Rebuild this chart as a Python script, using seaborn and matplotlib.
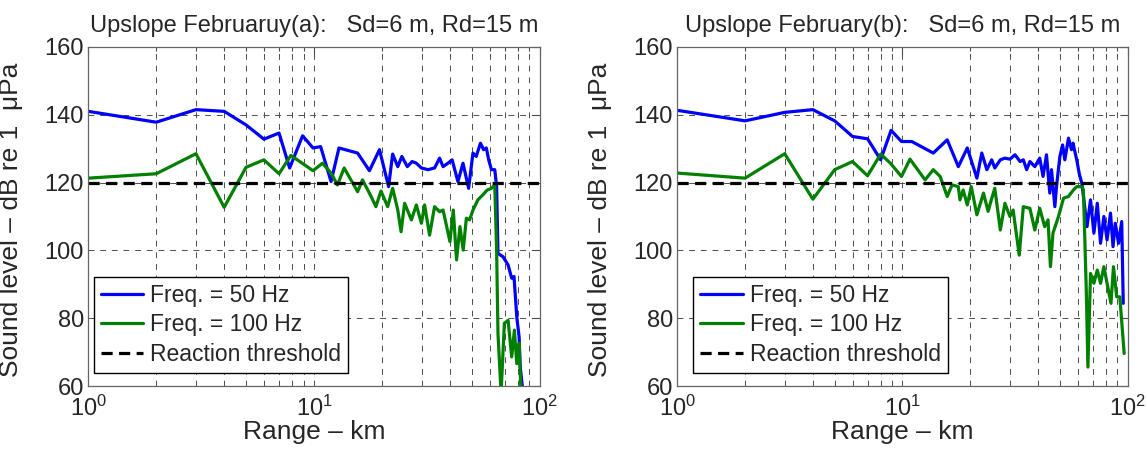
import numpy as np
import pandas as pd
import matplotlib
matplotlib.use("Agg")
import matplotlib.pyplot as plt
import seaborn as sns
from matplotlib.ticker import LogLocator, FixedLocator

# ---- data ----
range_a_50 = [1, 2, 3, 4, 5, 6, 7, 7.8, 8.9, 9.9, 10.7, 11.9, 12.9, 15.6, 17.6, 19.5, 21.4, 22.3,
              23.5, 24.5, 25.9, 27.2, 28.4, 29.9, 32.0, 34.2, 36.0, 37.3, 39.2, 40.9, 43.4, 45.7,
              48.4, 50.6, 52.3, 54.6, 56.4, 58.0, 59.4, 61.1, 63.2, 64.4, 65.3, 68.8, 72.4, 75.1,
              76.9, 79.1, 81.0, 81.9, 84.3]
level_a_50 = [141.0, 137.8, 141.5, 141.0, 137.0, 132.8, 134.6, 124.3, 133.8, 130.2, 130.6, 120.3,
              130.2, 128.7, 123.5, 129.7, 118.8, 128.4, 124.7, 127.7, 124.7, 126.2, 125.7, 124.3,
              123.8, 124.3, 127.2, 124.7, 125.7, 126.7, 120.3, 125.7, 118.3, 128.7, 127.7, 131.6,
              129.7, 130.2, 126.7, 123.8, 123.8, 118.8, 99.1, 98.1, 95.7, 91.8, 92.3, 80.4, 74.5,
              65.7, 58.0]

range_a_100 = [1, 2, 3, 4, 5, 6, 7, 7.9, 9.9, 10.9, 11.9, 12.7, 13.6, 15.6, 16.4, 17.9, 18.8, 19.8,
               21.2, 22.3, 23.5, 24.3, 25.2, 27.0, 28.4, 29.9, 30.9, 32.5, 34.2, 36.0, 37.3, 40.0,
               41.4, 42.8, 44.3, 45.8, 47.3, 48.9, 50.6, 53.2, 56.0, 58.5, 61.1, 63.2, 64.4, 65.3,
               67.4, 69.7, 72.4, 75.1, 77.2, 79.1, 81.0, 82.6]
level_a_100 = [121.3, 122.6, 128.5, 112.7, 124.5, 126.7, 122.6, 128.0, 123.5, 125.7, 122.8, 119.3,
               124.3, 117.3, 120.8, 115.9, 112.9, 117.5, 112.9, 118.3, 111.9, 105.5, 113.9, 109.0,
               113.4, 108.0, 113.4, 104.5, 112.9, 111.4, 111.9, 102.6, 111.9, 97.2, 107.0, 100.1,
               109.5, 109.0, 111.9, 114.9, 116.4, 117.8, 118.3, 119.3, 100.1, 75.5, 58.0, 78.5,
               79.4, 68.6, 76.5, 66.6, 72.6, 58.0]

range_b_50 = [1, 2, 3, 4, 5, 6, 7, 8, 8.9, 9.9, 11.0, 13.7, 15.8, 17.7, 19.4, 21.4, 22.5, 23.7,
              24.9, 25.7, 27.2, 28.5, 30.0, 31.6, 33.3, 34.4, 35.6, 36.8, 38.7, 40.7, 42.1, 43.6,
              45.1, 45.9, 47.5, 48.3, 50.0, 51.4, 52.6, 54.6, 56.3, 57.2, 59.4, 61.1, 62.6, 66.0,
              68.4, 70.8, 73.3, 75.8, 78.4, 81.0, 83.9, 86.1, 88.1, 91.1, 94.1, 95.6]
level_b_50 = [141.3, 138.2, 140.7, 141.5, 138.2, 133.6, 132.9, 126.7, 135.4, 132.1, 132.1, 128.7,
              132.6, 124.7, 130.2, 121.3, 128.7, 123.8, 126.7, 124.3, 126.7, 127.2, 126.9, 128.2,
              126.2, 126.7, 123.8, 126.2, 124.7, 127.2, 121.8, 128.2, 116.9, 123.8, 112.9, 118.8,
              127.7, 131.1, 126.7, 133.1, 129.7, 131.6, 126.7, 122.3, 119.8, 107.0, 114.9, 105.1,
              113.9, 102.1, 110.0, 103.1, 111.0, 101.1, 108.0, 102.1, 108.5, 84.4]

range_b_100 = [1, 2, 3, 4, 5, 6, 7, 8, 8.84, 9.9, 10.8, 12.6, 13.7, 14.7, 15.8, 16.6, 17.7, 18.0,
               18.6, 19.4, 20.2, 21.4, 22.9, 24.0, 24.8, 25.7, 27.2, 28.5, 30.0, 31.0, 33.0, 34.4,
               36.8, 38.7, 40.7, 42.8, 44.3, 45.4, 46.6, 49.3, 51.9, 54.6, 57.4, 59.4, 62.6, 63.6,
               65.5, 66.6, 68.4, 70.8, 73.3, 75.8, 78.4, 81.0, 84.3, 86.5, 89.4, 92.3, 96.5]
level_b_100 = [122.8, 121.3, 128.5, 115.1, 123.8, 126.2, 122.0, 128.4, 125.7, 121.8, 126.9, 120.8,
               123.8, 121.8, 115.9, 119.3, 118.8, 114.9, 117.8, 113.4, 118.8, 110.5, 116.9, 111.5,
               114.9, 118.3, 106.0, 113.9, 110.0, 111.9, 98.6, 112.9, 112.4, 106.0, 112.4, 107.0,
               109.0, 95.2, 105.1, 110.0, 115.4, 115.9, 117.8, 118.8, 118.8, 117.8, 88.3, 65.6,
               93.2, 90.3, 94.2, 90.3, 95.2, 90.3, 84.4, 95.2, 86.3, 86.3, 69.6]

threshold = 120
titles = ["Upslope Februaruy(a):   Sd=6 m, Rd=15 m",
          "Upslope February(b):   Sd=6 m, Rd=15 m"]
labels = ["Freq. = 50 Hz", "Freq. = 100 Hz", "Reaction threshold"]

sns.set_style("white")
plt.rcParams['font.family'] = ['Liberation Sans', 'DejaVu Sans']
plt.rcParams['mathtext.fontset'] = 'custom'
plt.rcParams['mathtext.rm'] = 'Liberation Sans'

fig = plt.figure(figsize=(11.46, 4.51), dpi=100)
ax_a = fig.add_axes([0.077, 0.144, 0.394, 0.752])
ax_b = fig.add_axes([0.591, 0.144, 0.393, 0.752])

panels = [
    (ax_a, range_a_50, level_a_50, range_a_100, level_a_100, titles[0], 0.013),
    (ax_b, range_b_50, level_b_50, range_b_100, level_b_100, titles[1], 0.036),
]

grid_style = dict(color='0.3', linestyle=(0, (6, 6)), linewidth=0.7)

for ax, r50, l50, r100, l100, title, leg_x in panels:
    df50 = pd.DataFrame({'range': r50, 'level': l50})
    df100 = pd.DataFrame({'range': r100, 'level': l100})
    sns.lineplot(data=df50, x='range', y='level', ax=ax, color=(0, 0, 1), lw=2.3,
                 estimator=None, sort=False, label=labels[0])
    sns.lineplot(data=df100, x='range', y='level', ax=ax, color=(0, 0.5, 0), lw=2.3,
                 estimator=None, sort=False, label=labels[1])
    ax.axhline(threshold, color='k', ls=(0, (3.5, 2)), lw=2.3, label=labels[2])

    ax.set_xscale('log')
    ax.set_xlim(1, 100)
    ax.set_ylim(60, 160)
    ax.yaxis.set_major_locator(FixedLocator([60, 80, 100, 120, 140, 160]))
    ax.xaxis.set_minor_locator(LogLocator(base=10, subs=np.arange(2, 10)))

    ax.grid(True, which='both', axis='x', **grid_style)
    ax.grid(True, which='major', axis='y', **grid_style)
    ax.set_axisbelow(True)

    ax.tick_params(which='both', direction='in', top=True, right=True, labelsize=17,
                   color='0.3')
    ax.tick_params(which='major', length=6, width=0.8)
    ax.tick_params(which='minor', length=3, width=0.8)
    ax.tick_params(axis='x', which='major', pad=7)
    ax.tick_params(axis='y', which='major', pad=3)
    for sp in ax.spines.values():
        sp.set_color('0.4')
        sp.set_linewidth(0.9)

    ax.set_xlabel('Range – km', fontsize=19)
    ax.set_ylabel('Sound level – dB re 1  μPa', fontsize=19)
    ax.xaxis.set_label_coords(0.5, -0.10)
    ax.yaxis.set_label_coords(-0.145, 0.49)
    ax.set_title(title, fontsize=17, pad=11)

    leg = ax.legend(loc='lower left', bbox_to_anchor=(leg_x, 0.038), borderaxespad=0,
                    fontsize=16.5, frameon=True, fancybox=False, edgecolor='k',
                    handlelength=1.85, handletextpad=0.3,
                    borderpad=0.3, labelspacing=0.3)
    leg.get_frame().set_linewidth(1.0)
    leg.get_frame().set_alpha(1)

fig.savefig('out.png', dpi=100)
